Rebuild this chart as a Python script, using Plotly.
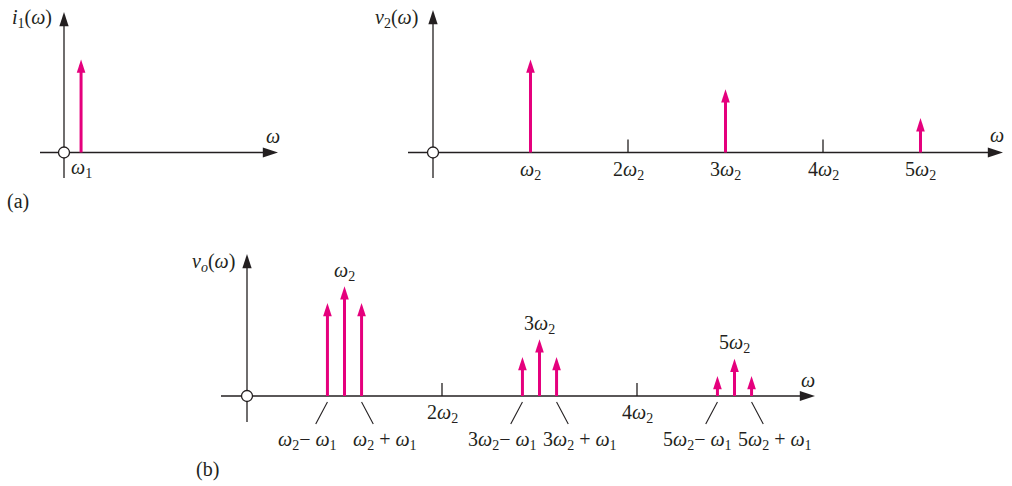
import plotly.graph_objects as go

W, H = 1012, 486
PX_X = 97.5   # pixels per unit of omega_2
PX_Y = 93.0   # pixels per unit of amplitude

# ---------------- data ----------------
w1 = 0.175                     # omega_1 in units of omega_2
i1_freq = [w1]
i1_amp = [1.0]
v2_harm = [1, 3, 5]
v2_amp = [1.0, 0.68, 0.37]
vo_center_amp = [1.18, 0.61, 0.40]
vo_side_amp = [1.0, 0.42, 0.215]
tick_harm = [2, 4]

PINK = "#E5007D"
INK = "#231F20"
FONT = dict(family="Liberation Serif", size=20, color=INK)

W_I = "<i>ω</i>"
def wk(k):
    p = "" if k == 1 else str(k)
    return p + W_I + "<sub>2</sub>"

# panel layout: pixel box (x0,x1,y0,y1) and origin pixel (ox, oy)
panels = {
    "1": dict(box=(0, 300, 0, 220), o=(64, 152.5)),
    "2": dict(box=(380, 1012, 0, 220), o=(433, 152.5)),
    "3": dict(box=(180, 840, 230, 486), o=(247, 396)),
}
# axis extents (pixels)
axis_ext = {
    "1": dict(xl=40, xr=278, yb=178, yt=12),
    "2": dict(xl=408, xr=1003, yb=178, yt=10),
    "3": dict(xl=221, xr=815, yb=422, yt=254),
}

fig = go.Figure()
layout = dict(width=W, height=H, margin=dict(l=0, r=0, t=0, b=0),
              paper_bgcolor="white", plot_bgcolor="rgba(0,0,0,0)",
              showlegend=False, font=FONT)

def dx(p, n):
    return (p - panels[n]["o"][0]) / PX_X
def dy(p, n):
    return (panels[n]["o"][1] - p) / PX_Y

for n, pdef in panels.items():
    x0, x1, y0, y1 = pdef["box"]
    ox, oy = pdef["o"]
    xa = "xaxis" if n == "1" else "xaxis" + n
    ya = "yaxis" if n == "1" else "yaxis" + n
    layout[xa] = dict(domain=[x0 / W, x1 / W],
                      range=[(x0 - ox) / PX_X, (x1 - ox) / PX_X],
                      visible=False, fixedrange=True,
                      anchor="y" if n == "1" else "y" + n)
    layout[ya] = dict(domain=[1 - y1 / H, 1 - y0 / H],
                      range=[(oy - y1) / PX_Y, (oy - y0) / PX_Y],
                      visible=False, fixedrange=True,
                      anchor="x" if n == "1" else "x" + n)

def refs(n):
    return ("x", "y") if n == "1" else ("x" + n, "y" + n)

annotations = []

def add_axes(n):
    xr, yr = refs(n)
    e = axis_ext[n]
    xl, xt = dx(e["xl"], n), dx(e["xr"], n)
    yb, yt = dy(e["yb"], n), dy(e["yt"], n)
    fig.add_trace(go.Scatter(x=[xl, xt - 0.08, None, 0, 0], y=[0, 0, None, yb, yt - 0.08],
                             mode="lines", line=dict(color=INK, width=1.3),
                             xaxis=xr, yaxis=yr, hoverinfo="skip"))
    fig.add_trace(go.Scatter(x=[xt], y=[0], mode="markers",
                             marker=dict(symbol="arrow", angle=90, size=16, color=INK,
                                         line=dict(width=0)),
                             xaxis=xr, yaxis=yr, hoverinfo="skip"))
    fig.add_trace(go.Scatter(x=[0], y=[yt], mode="markers",
                             marker=dict(symbol="arrow", angle=0, size=15, color=INK,
                                         line=dict(width=0)),
                             xaxis=xr, yaxis=yr, hoverinfo="skip"))

def add_stems(n, xs, amps):
    xr, yr = refs(n)
    lx, ly = [], []
    for x, a in zip(xs, amps):
        lx += [x, x, None]
        ly += [0, a - 0.06, None]
    fig.add_trace(go.Scatter(x=lx, y=ly, mode="lines", line=dict(color=PINK, width=3),
                             xaxis=xr, yaxis=yr, hoverinfo="skip"))
    fig.add_trace(go.Scatter(x=xs, y=amps, mode="markers",
                             marker=dict(symbol="arrow", angle=0, size=14, color=PINK,
                                         line=dict(width=0)),
                             xaxis=xr, yaxis=yr, hoverinfo="skip"))

def add_ticks(n, xs):
    xr, yr = refs(n)
    lx, ly = [], []
    for x in xs:
        lx += [x, x, None]
        ly += [0, 0.14, None]
    fig.add_trace(go.Scatter(x=lx, y=ly, mode="lines", line=dict(color=INK, width=1.3),
                             xaxis=xr, yaxis=yr, hoverinfo="skip"))

def add_origin(n):
    xr, yr = refs(n)
    fig.add_trace(go.Scatter(x=[0], y=[0], mode="markers",
                             marker=dict(symbol="circle", size=11, color="white",
                                         line=dict(color=INK, width=1.3)),
                             xaxis=xr, yaxis=yr, hoverinfo="skip"))

def label(n, x, y, text, xanchor="center", yshift=0, xshift=0):
    xr, yr = refs(n)
    annotations.append(dict(x=x, y=y, xref=xr, yref=yr, text=text, showarrow=False,
                            xanchor=xanchor, yanchor="middle", yshift=yshift,
                            xshift=xshift, font=FONT))

# ---------- panel (a) left: i1 ----------
add_axes("1")
add_stems("1", i1_freq, i1_amp)
add_origin("1")
label("1", dx(54, "1"), dy(18, "1"), "<i>i</i><sub>1</sub>(" + W_I + ")", xanchor="right")
label("1", dx(273, "1"), dy(136, "1"), W_I)
label("1", w1, 0, W_I + "<sub>1</sub>", yshift=-16)

# ---------- panel (a) right: v2 ----------
add_axes("2")
add_ticks("2", tick_harm)
add_stems("2", v2_harm, v2_amp)
add_origin("2")
label("2", dx(420, "2"), dy(18, "2"), "<i>v</i><sub>2</sub>(" + W_I + ")", xanchor="right")
label("2", dx(997, "2"), dy(135, "2"), W_I)
for k in range(1, 6):
    label("2", k, 0, wk(k), yshift=-18)

# ---------- panel (b): vo ----------
add_axes("3")
add_ticks("3", tick_harm)
side_x = []
side_a = []
for h, a in zip(v2_harm, vo_side_amp):
    side_x += [h - w1, h + w1]
    side_a += [a, a]
add_stems("3", side_x, side_a)
add_stems("3", v2_harm, vo_center_amp)
add_origin("3")
# leader lines
lx, ly = [], []
for h in v2_harm:
    lx += [h - w1, h - w1 - 0.12, None, h + w1, h + w1 + 0.12, None]
    ly += [-0.065, -0.30, None, -0.065, -0.30, None]
fig.add_trace(go.Scatter(x=lx, y=ly, mode="lines", line=dict(color=INK, width=1.1),
                         xaxis="x3", yaxis="y3", hoverinfo="skip"))
label("3", dx(237, "3"), dy(262, "3"), "<i>v</i><sub><i>o</i></sub>(" + W_I + ")", xanchor="right")
label("3", dx(808, "3"), dy(380, "3"), W_I)
for h, a in zip(v2_harm, vo_center_amp):
    label("3", h, a, wk(h), yshift=15)
for k in tick_harm:
    label("3", k, 0, wk(k), yshift=-17)
for h in v2_harm:
    label("3", h - w1 - 0.2, 0, wk(h) + "− " + W_I + "<sub>1</sub>", yshift=-44)
    label("3", h + w1 + 0.24, 0, wk(h) + " + " + W_I + "<sub>1</sub>", yshift=-44)

annotations.append(dict(x=18 / W, y=1 - 201 / H, xref="paper", yref="paper", text="(a)",
                        showarrow=False, xanchor="center", yanchor="middle", font=FONT))
annotations.append(dict(x=207 / W, y=1 - 469 / H, xref="paper", yref="paper", text="(b)",
                        showarrow=False, xanchor="center", yanchor="middle", font=FONT))

layout["annotations"] = annotations
fig.update_layout(**layout)
fig.write_html("out.html", config={"displayModeBar": False},
               post_script="document.body.style.margin='0';document.body.style.overflow='hidden';")
